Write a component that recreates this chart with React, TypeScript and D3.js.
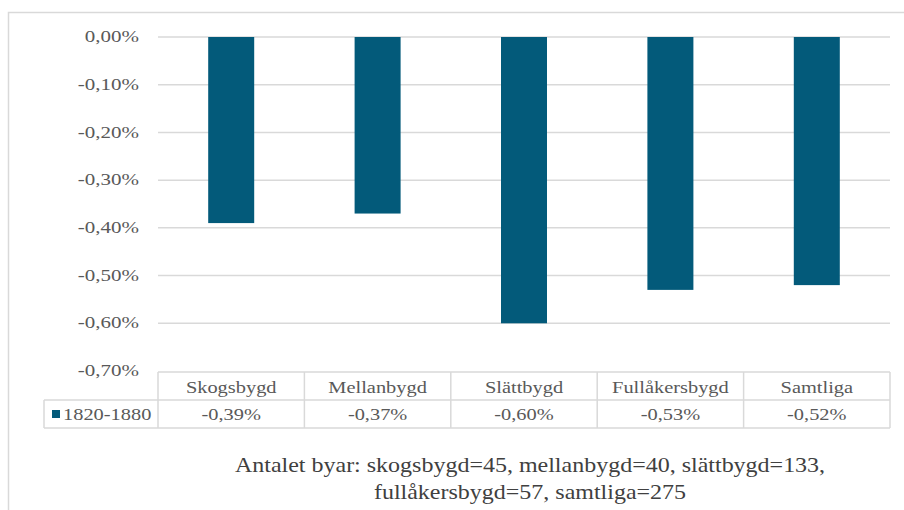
import React from "react";
import * as d3 from "d3";

const categories = ["Skogsbygd", "Mellanbygd", "Slättbygd", "Fullåkersbygd", "Samtliga"];
const values = [-0.39, -0.37, -0.60, -0.53, -0.52];
const seriesName = "1820-1880";
const yTicks = [0, -0.1, -0.2, -0.3, -0.4, -0.5, -0.6, -0.7];
const footnoteLines = [
  "Antalet byar: skogsbygd=45, mellanbygd=40, slättbygd=133,",
  "fullåkersbygd=57, samtliga=275",
];

const fmt = (v: number) => (v === 0 ? "0,00%" : v.toFixed(2).replace(".", ",") + "%");
const FONT = "\"Liberation Serif\", \"DejaVu Serif\", serif";
const SX = 1.2;

function T(props: { x: number; y: number; size: number; fill: string; anchor?: string; children: React.ReactNode }) {
  const { x, y, size, fill, anchor = "start", children } = props;
  return (
    <g transform={`translate(${x},${y}) scale(${SX},1)`}>
      <text x={0} y={0} dy="0.35em" textAnchor={anchor} style={{ fontFamily: FONT, fontSize: size }} fill={fill}>
        {children}
      </text>
    </g>
  );
}

export default function App() {
  const W = 904, H = 510;
  const left = 158, right = 890;
  const y = d3.scaleLinear().domain([0, -0.7]).range([37, 371]);
  const x = d3.scaleBand().domain(categories).range([left, right]).paddingInner(0).paddingOuter(0);
  const bw = 46;
  const row1 = 372, row2 = 400, row3 = 428;
  const grid = "#d9d9d9";
  const txt = "#595959";
  const barColor = "#035a7a";
  return (
    <svg width={W} height={H} style={{ position: "absolute", left: 0, top: 0 }}>
      <rect x={0} y={0} width={W} height={H} fill="#fff" />
      <path d={`M8.5,${H} V12.5 H${W}`} fill="none" stroke={grid} strokeWidth={1.5} />
      {yTicks.map((t) => (
        <g key={t}>
          {t !== -0.7 && (
            <line x1={left} x2={right} y1={y(t)} y2={y(t)} stroke={grid} strokeWidth={1.5} />
          )}
          <T x={139} y={y(t) - 1} size={17.5} fill={txt} anchor="end">{fmt(t)}</T>
        </g>
      ))}
      {categories.map((c, i) => (
        <rect
          key={c}
          x={x(c)! + x.bandwidth() / 2 - bw / 2}
          y={y(0)}
          width={bw}
          height={y(values[i]) - y(0)}
          fill={barColor}
        />
      ))}
      <g stroke={grid} strokeWidth={1.5} fill="none">
        <line x1={left} x2={right} y1={row1} y2={row1} />
        <line x1={44} x2={right} y1={row2} y2={row2} />
        <line x1={44} x2={right} y1={row3} y2={row3} />
        <line x1={44} x2={44} y1={row2} y2={row3} />
        {categories.map((c) => (
          <line key={c} x1={x(c)!} x2={x(c)!} y1={row1} y2={row3} />
        ))}
        <line x1={right} x2={right} y1={row1} y2={row3} />
      </g>
      {categories.map((c, i) => (
        <g key={c}>
          <T x={x(c)! + x.bandwidth() / 2} y={(row1 + row2) / 2 + 1} size={17} fill={txt} anchor="middle">{c}</T>
          <T x={x(c)! + x.bandwidth() / 2} y={(row2 + row3) / 2} size={17} fill={txt} anchor="middle">{fmt(values[i])}</T>
        </g>
      ))}
      <rect x={52} y={410} width={8} height={8} fill={barColor} />
      <T x={63} y={(row2 + row3) / 2} size={17} fill={txt}>{seriesName}</T>
      {footnoteLines.map((l, i) => (
        <T key={i} x={530} y={465 + i * 27} size={20} fill="#404040" anchor="middle">{l}</T>
      ))}
    </svg>
  );
}
